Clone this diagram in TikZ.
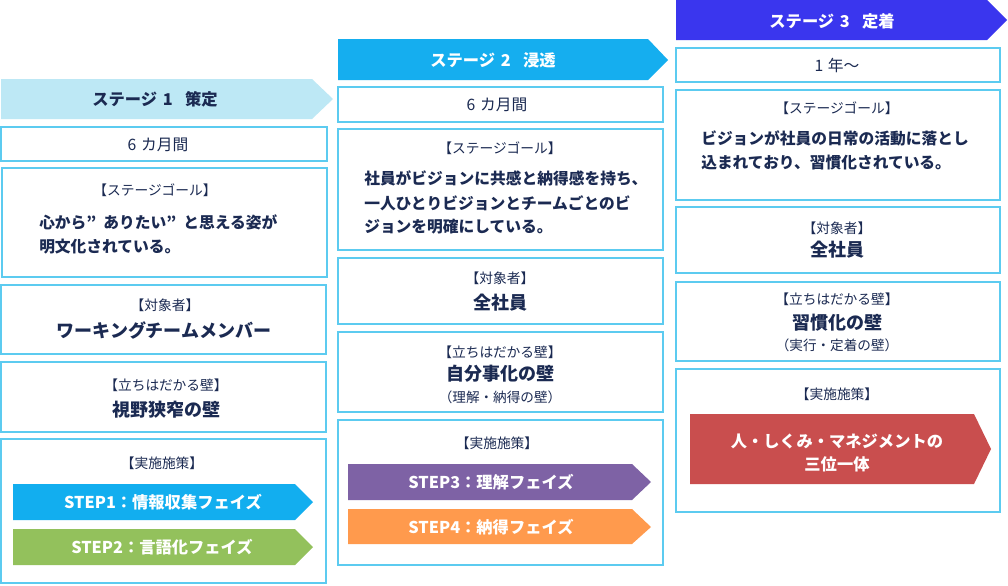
\documentclass[tikz,border=0pt]{standalone}
\usepackage{fontspec}
\setmainfont{Noto Sans CJK JP}
\usetikzlibrary{fit}
\definecolor{navy}{HTML}{1B2A52}
\definecolor{frame}{HTML}{5CCBF0}
\definecolor{hdA}{HTML}{BDE8F5}
\definecolor{hdB}{HTML}{15AEEF}
\definecolor{hdC}{HTML}{3A36EE}
\definecolor{stA}{HTML}{12AEEF}
\definecolor{stB}{HTML}{93C15C}
\definecolor{stC}{HTML}{7E62A5}
\definecolor{stD}{HTML}{FF9A4D}
\definecolor{stE}{HTML}{C94E4E}
\begin{document}
\begin{tikzpicture}[x=0.75pt,y=-0.75pt,
 box/.style={draw=frame, line width=1.5pt, inner sep=0pt, fill=white},
 lbl/.style={text=navy, font=\fontsize{10.3}{12}\selectfont, inner sep=0pt},
 big/.style={text=navy, font=\fontsize{13.5}{16}\selectfont\bfseries, inner sep=0pt},
 subt/.style={text=navy, font=\fontsize{10.2}{12}\selectfont, inner sep=0pt},
 goal/.style={text=navy, font=\fontsize{11.8}{14}\selectfont\bfseries, inner sep=0pt, anchor=west},
 dur/.style={text=navy, font=\fontsize{11.8}{14}\selectfont, inner sep=0pt},
 head/.style={font=\fontsize{12.2}{14}\selectfont\bfseries, inner sep=0pt},
 steptxt/.style={text=white, font=\fontsize{12.2}{15}\selectfont\bfseries, inner sep=0pt},
]
\useasboundingbox[fill=white] (0,0) rectangle (1008,586);

% headers
\fill[hdA] (1,79) -- (312,79) -- (333,99) -- (312,119) -- (1,119) -- cycle;
\node[head, text=navy] (h1) at (155,99) {ステージ\hspace{0.35em}1\hspace{0.75em}策定};
\fill[hdB] (338,39) -- (648,39) -- (668,60) -- (648,80) -- (338,80) -- cycle;
\node[head, text=white] (h2) at (493,60) {ステージ\hspace{0.35em}2\hspace{0.75em}浸透};
\fill[hdC] (676,0) -- (987,0) -- (1007,20) -- (987,40) -- (676,40) -- cycle;
\node[head, text=white] (h3) at (832,21) {ステージ\hspace{0.35em}3\hspace{0.75em}定着};

% column 1
\node[box, fit={(1,127)(327,161)}] (d1) {};
\node[dur] (d1t) at (158,145) {6\hspace{0.3em}カ月間};
\node[box, fit={(2,168)(327,277)}] (g1) {};
\node[lbl] (g1l) at (155,190) {【ステージゴール】};
\node[goal] (g1a) at (39,222) {心から”\hspace{0.45em}ありたい”\hspace{0.45em}と思える姿が};
\node[goal] (g1b) at (39,247) {明文化されている。};
\node[box, fit={(1,285)(326,354)}] (t1) {};
\node[lbl] (t1l) at (165,305) {【対象者】};
\node[big] (t1t) at (164,330) {ワーキングチームメンバー};
\node[box, fit={(1,362)(326,432)}] (w1) {};
\node[lbl] (w1l) at (166,385) {【立ちはだかる壁】};
\node[big] (w1t) at (166,410) {視野狭窄の壁};
\node[box, fit={(1,439)(326,583)}] (m1) {};
\node[lbl] (m1l) at (162,463) {【実施施策】};
\fill[stA] (13,484) -- (295,484) -- (313,502) -- (295,520) -- (13,520) -- cycle;
\node[steptxt] (s1) at (163,502) {STEP1：情報収集フェイズ};
\fill[stB] (13,529) -- (295,529) -- (313,547) -- (295,565) -- (13,565) -- cycle;
\node[steptxt] (s2) at (162,547) {STEP2：言語化フェイズ};

% column 2
\node[box, fit={(338,87)(663,122)}] (d2) {};
\node[dur] (d2t) at (497,105) {6\hspace{0.3em}カ月間};
\node[box, fit={(338,129)(663,250)}] (g2) {};
\node[lbl] (g2l) at (500,148) {【ステージゴール】};
\node[goal] (g2a) at (364,178) {社員がビジョンに共感と納得感を持ち、};
\node[goal] (g2b) at (364,203) {一人ひとりビジョンとチームごとのビ};
\node[goal] (g2c) at (364,227) {ジョンを明確にしている。};
\node[box, fit={(338,258)(663,324)}] (t2) {};
\node[lbl] (t2l) at (500,278) {【対象者】};
\node[big] (t2t) at (500,303) {全社員};
\node[box, fit={(338,332)(663,412)}] (w2) {};
\node[lbl] (w2l) at (500,352) {【立ちはだかる壁】};
\node[big] (w2t) at (500,374) {自分事化の壁};
\node[subt] (w2s) at (500,397) {（理解・納得の壁）};
\node[box, fit={(338,420)(663,565)}] (m2) {};
\node[lbl] (m2l) at (497,443) {【実施施策】};
\fill[stC] (348,464) -- (632,464) -- (651,482) -- (632,500) -- (348,500) -- cycle;
\node[steptxt] (s3) at (491,482) {STEP3：理解フェイズ};
\fill[stD] (348,509) -- (632,509) -- (651,527) -- (632,544) -- (348,544) -- cycle;
\node[steptxt] (s4) at (491,527) {STEP4：納得フェイズ};

% column 3
\node[box, fit={(676,48)(1000,82)}] (d3) {};
\node[dur] (d3t) at (837,65) {1\hspace{0.3em}年〜};
\node[box, fit={(676,90)(1000,200)}] (g3) {};
\node[lbl] (g3l) at (837,108) {【ステージゴール】};
\node[goal] (g3a) at (701,138) {ビジョンが社員の日常の活動に落とし};
\node[goal] (g3b) at (701,163) {込まれており、習慣化されている。};
\node[box, fit={(676,207)(1000,273)}] (t3) {};
\node[lbl] (t3l) at (837,228) {【対象者】};
\node[big] (t3t) at (837,250) {全社員};
\node[box, fit={(676,282)(1000,361)}] (w3) {};
\node[lbl] (w3l) at (837,299) {【立ちはだかる壁】};
\node[big] (w3t) at (837,323) {習慣化の壁};
\node[subt] (w3s) at (837,345) {（実行・定着の壁）};
\node[box, fit={(676,369)(1000,512)}] (m3) {};
\node[lbl] (m3l) at (837,394) {【実施施策】};
\fill[stE] (690,414) -- (974,414) -- (991,449) -- (974,484) -- (690,484) -- cycle;
\node[steptxt] (s5a) at (837,441) {人・しくみ・マネジメントの};
\node[steptxt] (s5b) at (837,464) {三位一体};
\end{tikzpicture}
\end{document}
